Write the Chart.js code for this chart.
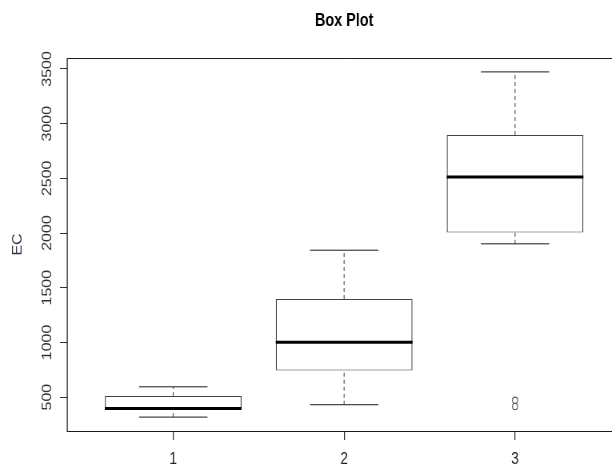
<!DOCTYPE html>
<html>
<head>
<meta charset="utf-8">
<script src="https://cdn.jsdelivr.net/npm/chart.js@4.4.1/dist/chart.umd.min.js"></script>
<style>
  html, body { margin:0; padding:0; background:#fff; overflow:hidden; width:612px; height:466px; }
  /* the reference is squeezed sideways, so draw wide and squeeze */
  #wrap { position:absolute; left:0; top:0; transform:scaleX(0.8); transform-origin:0 0; }
</style>
</head>
<body>
<div id="wrap"><canvas id="chartBox" width="790" height="466"></canvas></div>
<script>
const mainTitle = "Box Plot";
const yTitle = "EC";
const groups = [1, 2, 3];
const groupLabels = ["1", "2", "3"];
const mins    = [317, 430, 1901];
const q1s     = [381, 744, 2004];
const medians = [396, 1001, 2511];
const q3s     = [509, 1397, 2896];
const maxs    = [594, 1843, 3473];
const outlierGroup  = [3, 3];
const outlierValues = [470, 415];
const yTickValues = [500, 1000, 1500, 2000, 2500, 3000, 3500];
const yMin = 190, yMax = 3600;
const xMin = 0.38, xMax = 3.62;

const family = "'Liberation Sans', Arial, sans-serif";

// half of a width given in x units, in pixels
function halfPx(chart, w){
  const s = chart.scales.x;
  return s.getPixelForValue(1 + w/2) - s.getPixelForValue(1);
}

const whiskerPts = [];
groups.forEach((g, i) => {
  whiskerPts.push({x:g, y:q3s[i]}, {x:g, y:maxs[i]}, {x:g, y:null});
  whiskerPts.push({x:g, y:mins[i]}, {x:g, y:q1s[i]}, {x:g, y:null});
});
const staplePts = [];
groups.forEach((g, i) => { staplePts.push({x:g, y:mins[i]}, {x:g, y:maxs[i]}); });

const framePlugin = {
  id: "frame",
  afterDatasetsDraw(chart){
    const {ctx, chartArea:a} = chart;
    ctx.save();
    ctx.strokeStyle = "#1a1a1a";
    ctx.lineWidth = 1;
    ctx.beginPath();
    ctx.moveTo(a.left, a.top + 0.5); ctx.lineTo(a.right, a.top + 0.5);
    ctx.moveTo(a.left, a.bottom + 0.5); ctx.lineTo(a.right, a.bottom + 0.5);
    ctx.stroke();
    ctx.lineWidth = 1.25;
    ctx.beginPath();
    ctx.moveTo(a.left, a.top); ctx.lineTo(a.left, a.bottom + 1);
    ctx.moveTo(a.right, a.top); ctx.lineTo(a.right, a.bottom + 1);
    ctx.stroke();
    ctx.restore();
  }
};

const titlePlugin = {
  id: "mainTitle",
  afterDraw(chart){
    const {ctx, chartArea:a} = chart;
    ctx.save();
    ctx.font = "bold 18px " + family;
    ctx.fillStyle = "#000";
    ctx.textAlign = "center";
    ctx.textBaseline = "alphabetic";
    ctx.fillText(mainTitle, (a.left + a.right) / 2, 26);
    ctx.restore();
  }
};

new Chart(document.getElementById("chartBox"), {
  type: "bar",
  data: {
    datasets: [
      { type:"bar", label:"box", order:2,
        data: groups.map((g, i) => ({x:g, y:[q1s[i], q3s[i]]})),
        backgroundColor:"#fff", borderColor:"#444",
        borderWidth:{top:1, bottom:1, left:1.4, right:1.4}, borderSkipped:false,
        barPercentage:0.8, categoryPercentage:1 },
      { type:"line", label:"whisker", order:3, data: whiskerPts,
        borderColor:"#666", borderWidth:1.3, borderDash:[4,3], pointRadius:0, spanGaps:false },
      { type:"scatter", label:"staple", order:1, data: staplePts,
        pointStyle:"line", pointRadius: c => halfPx(c.chart, 0.4), borderColor:"#1a1a1a", borderWidth:1 },
      { type:"scatter", label:"median", order:0,
        data: groups.map((g, i) => ({x:g, y:medians[i]})),
        pointStyle:"line", pointRadius: c => halfPx(c.chart, 0.8), borderColor:"#000", borderWidth:3 },
      { type:"scatter", label:"outliers", order:0,
        data: outlierGroup.map((g, i) => ({x:g, y:outlierValues[i]})),
        pointStyle:"circle", pointRadius:3.2, borderColor:"#555", backgroundColor:"rgba(0,0,0,0)", borderWidth:1.1 },
    ]
  },
  options: {
    responsive:false, animation:false, events:[],
    layout:{ padding:{ top:58, right:13.7, left:0, bottom:0 } },
    plugins:{ legend:{display:false}, tooltip:{enabled:false}, title:{display:false} },
    scales:{
      x:{ type:"linear", min:xMin, max:xMax, offset:false, bounds:"data",
        afterBuildTicks: s => { s.ticks = groups.map(v => ({value:v})); },
        afterFit: s => { s.height = 35; },
        grid:{ drawOnChartArea:false, drawTicks:true, tickLength:9, color:"#333", lineWidth:1.25, offset:false },
        border:{ display:false },
        ticks:{ color:"#222", font:{size:17, family}, padding:9, autoSkip:false, maxRotation:0,
          callback: v => groupLabels[groups.indexOf(v)] ?? "" } },
      y:{ type:"linear", min:yMin, max:yMax, beginAtZero:false, bounds:"data",
        afterBuildTicks: s => { s.ticks = yTickValues.map(v => ({value:v})); },
        afterFit: s => { s.width = 84.1; },
        grid:{ drawOnChartArea:false, drawTicks:true, tickLength:9.1, color:"#333", lineWidth:1 },
        border:{ display:false },
        ticks:{ color:"#333", font:{size:16, family}, padding:-2, minRotation:90, maxRotation:90,
          crossAlign:"center", autoSkip:false, callback: v => String(v) },
        title:{ display:true, text:yTitle, color:"#334", font:{size:16, family}, padding:{top:12.5, bottom:0} } }
    }
  },
  plugins:[framePlugin, titlePlugin]
});
</script>
</body>
</html>
